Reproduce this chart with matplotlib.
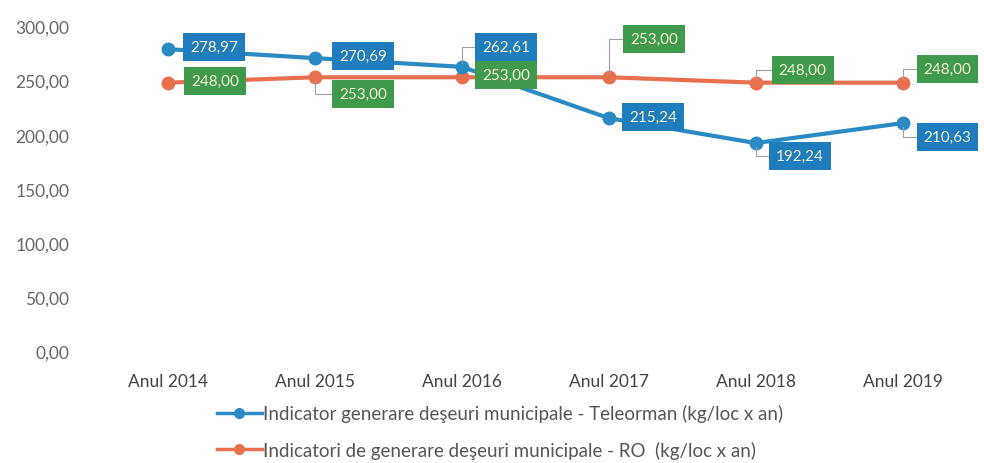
import matplotlib.pyplot as plt
import numpy as np

plt.rcParams['font.family'] = ['Lato', 'DejaVu Sans']

years = ['Anul 2014', 'Anul 2015', 'Anul 2016', 'Anul 2017', 'Anul 2018', 'Anul 2019']
teleorman = [278.97, 270.69, 262.61, 215.24, 192.24, 210.63]
romania = [248.00, 253.00, 253.00, 253.00, 248.00, 248.00]
lbl_tel = 'Indicator generare deşeuri municipale - Teleorman (kg/loc x an)'
lbl_ro = 'Indicatori de generare deşeuri municipale - RO  (kg/loc x an)'

# label offsets in pixels (dx, dy) from the marker
off_tel = [(46, 2), (48, 2), (44, 20), (44, 1), (44, -13), (45, -14)]
off_ro = [(47, 2), (48, -17), (44, 2), (45, 38), (47, 13), (45, 14)]

c_blue = '#2a8ac4'
c_blue_box = '#1f7dbd'
c_orange = '#e8704f'
c_green = '#3f9a4c'
c_txt = '#f6f2cf'

fig = plt.figure(figsize=(9.84, 4.64), dpi=100)
ax = fig.add_axes([0.096, 0.241, 0.896, 0.700])

x = np.arange(len(years))
ax.plot(x, teleorman, color=c_blue, lw=3, marker='o', ms=9, label=lbl_tel, zorder=3)
ax.plot(x, romania, color=c_orange, lw=3, marker='o', ms=9, label=lbl_ro, zorder=2)


def fmt(v):
    return ('%.2f' % v).replace('.', ',')


def labels(vals, offs, box):
    for i, v in enumerate(vals):
        dx, dy = offs[i]
        ap = None
        if abs(dy) > 8:
            ap = dict(arrowstyle='-', color='#a0a0a0', lw=0.8, relpos=(0, 0.5),
                      connectionstyle='angle,angleA=0,angleB=90,rad=0',
                      shrinkA=0, shrinkB=3)
        ax.annotate(fmt(v), xy=(x[i], v), xytext=(dx, dy), textcoords='offset pixels',
                    ha='center', va='center', fontsize=11, color=c_txt,
                    bbox=dict(boxstyle='square,pad=0.45', fc=box, ec='none'),
                    arrowprops=ap, zorder=5)


labels(teleorman, off_tel, c_blue_box)
labels(romania, off_ro, c_green)

ax.set_xlim(-0.5, 5.5)
ax.set_ylim(0, 300)
ax.set_yticks(np.arange(0, 301, 50))
ax.set_yticklabels([fmt(v) for v in np.arange(0, 301, 50)])
ax.set_xticks(x)
ax.set_xticklabels(years)
ax.tick_params(axis='y', length=0, pad=18, labelsize=12.5, labelcolor='#666666')
ax.tick_params(axis='x', length=0, pad=16, labelsize=12.5, labelcolor='#444444')
for s in ax.spines.values():
    s.set_visible(False)

leg = fig.legend(loc='center', bbox_to_anchor=(0.508, 0.068), frameon=False, ncol=1,
                 fontsize=13.5, handlelength=2.4, handletextpad=0.05,
                 labelspacing=1.0, labelcolor='#555555')
for h in leg.legend_handles:
    h.set_markersize(7)
    h.set_linewidth(2.5)

fig.savefig('out.png', dpi=100)
